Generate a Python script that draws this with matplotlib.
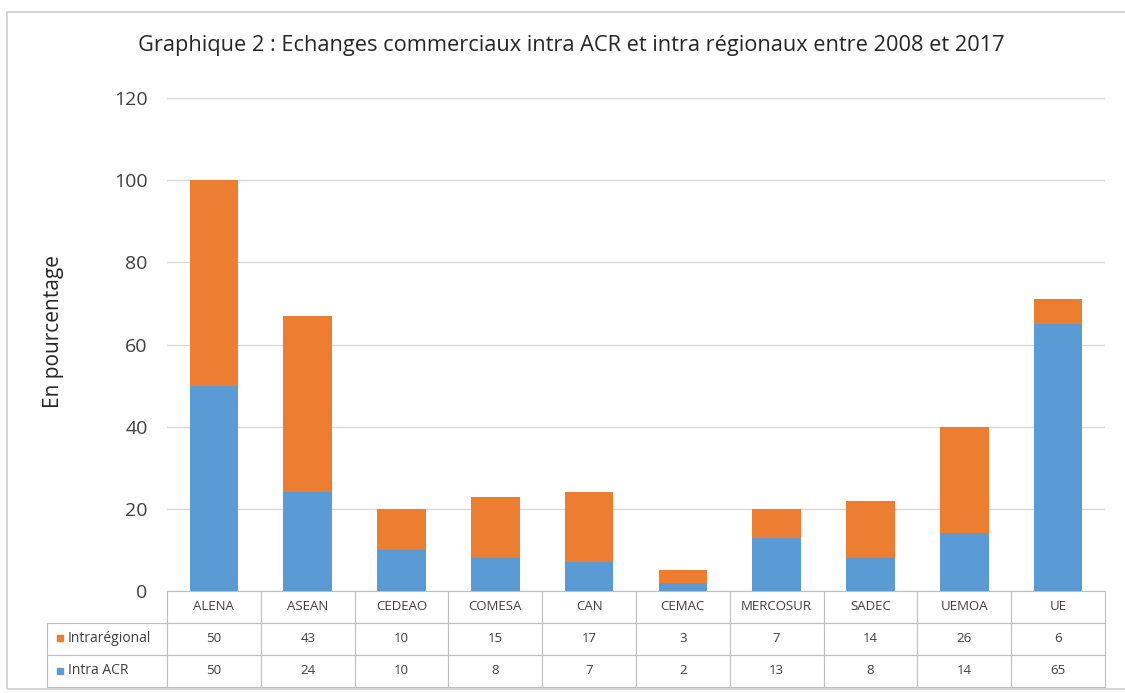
import matplotlib.pyplot as plt
from matplotlib.patches import Rectangle

categories = ["ALENA", "ASEAN", "CEDEAO", "COMESA", "CAN", "CEMAC",
              "MERCOSUR", "SADEC", "UEMOA", "UE"]
intra_acr = [50, 24, 10, 8, 7, 2, 13, 8, 14, 65]
intra_regional = [50, 43, 10, 15, 17, 3, 7, 14, 26, 6]
row_labels = ["Intrarégional", "Intra ACR"]
blue = "#5B9BD5"
orange = "#ED7D31"
grid_col = "#D9D9D9"
edge_col = "#BFBFBF"
text_col = "#404040"

plt.rcParams['font.family'] = ['Open Sans', 'DejaVu Sans']

W, H = 1125, 693


def main():
    fig = plt.figure(figsize=(W / 100, H / 100), dpi=100)
    fig.patches.append(Rectangle((7 / W, 1 - 689 / H), 1130 / W, 677 / H,
                                 transform=fig.transFigure, fill=False,
                                 edgecolor="#D0D0D0", lw=1.2))
    # plot area: x 167..1105 px, y 98..591 px
    ax_h = 591 - 98
    ax = fig.add_axes([167 / W, 1 - 591 / H, 938 / W, ax_h / H])

    x = range(len(categories))
    ax.bar(x, intra_acr, width=0.52, color=blue, zorder=3)
    ax.bar(x, intra_regional, width=0.52, bottom=intra_acr, color=orange, zorder=3)

    ax.set_xlim(-0.5, len(categories) - 0.5)
    ax.set_ylim(0, 120)
    ax.set_yticks(range(0, 121, 20))
    ax.tick_params(axis="y", length=0, labelsize=14, labelcolor=text_col, pad=14)
    ax.set_xticks([])
    ax.yaxis.grid(True, color=grid_col, lw=1, zorder=0)
    for s in ["top", "right", "left", "bottom"]:
        ax.spines[s].set_visible(False)
    ax.set_ylabel("En pourcentage", fontsize=15, color="#262626")
    ax.yaxis.set_label_coords(-(167 - 64) / 938, (591 - 332) / ax_h)
    fig.text(571 / W, 1 - 45 / H,
             "Graphique 2 : Echanges commerciaux intra ACR et intra régionaux entre 2008 et 2017",
             ha="center", va="center", fontsize=15.7, color="#262626")

    # data table below the axis
    lab_w = 120 / 938
    tab_h = (687 - 591) / ax_h
    cell_text = [[""] + categories,
                 [""] + [str(v) for v in intra_regional],
                 [""] + [str(v) for v in intra_acr]]
    col_w = [lab_w] + [1 / len(categories)] * len(categories)
    tb = ax.table(cellText=cell_text, colWidths=col_w, cellLoc="center",
                  bbox=[-lab_w, -tab_h, 1 + lab_w, tab_h])
    tb.auto_set_font_size(False)
    for (r, c), cell in tb.get_celld().items():
        cell.set_edgecolor(edge_col)
        cell.set_linewidth(0.8)
        cell.get_text().set_fontsize(9.5)
        cell.get_text().set_color(text_col)
        if r == 0 and c == 0:
            cell.visible_edges = ""
    for yy, col, lab in [(638, orange, row_labels[0]), (671, blue, row_labels[1])]:
        ya = (591 - yy) / ax_h
        ax.plot([-(167 - 60) / 938], [ya], marker="s", ms=5, color=col,
                transform=ax.transAxes, clip_on=False)
        ax.text(-(167 - 68) / 938, ya, lab, transform=ax.transAxes, ha="left",
                va="center", fontsize=10, color=text_col)

    fig.savefig("out.png", dpi=100, facecolor="white")


if __name__ == "__main__":
    main()
